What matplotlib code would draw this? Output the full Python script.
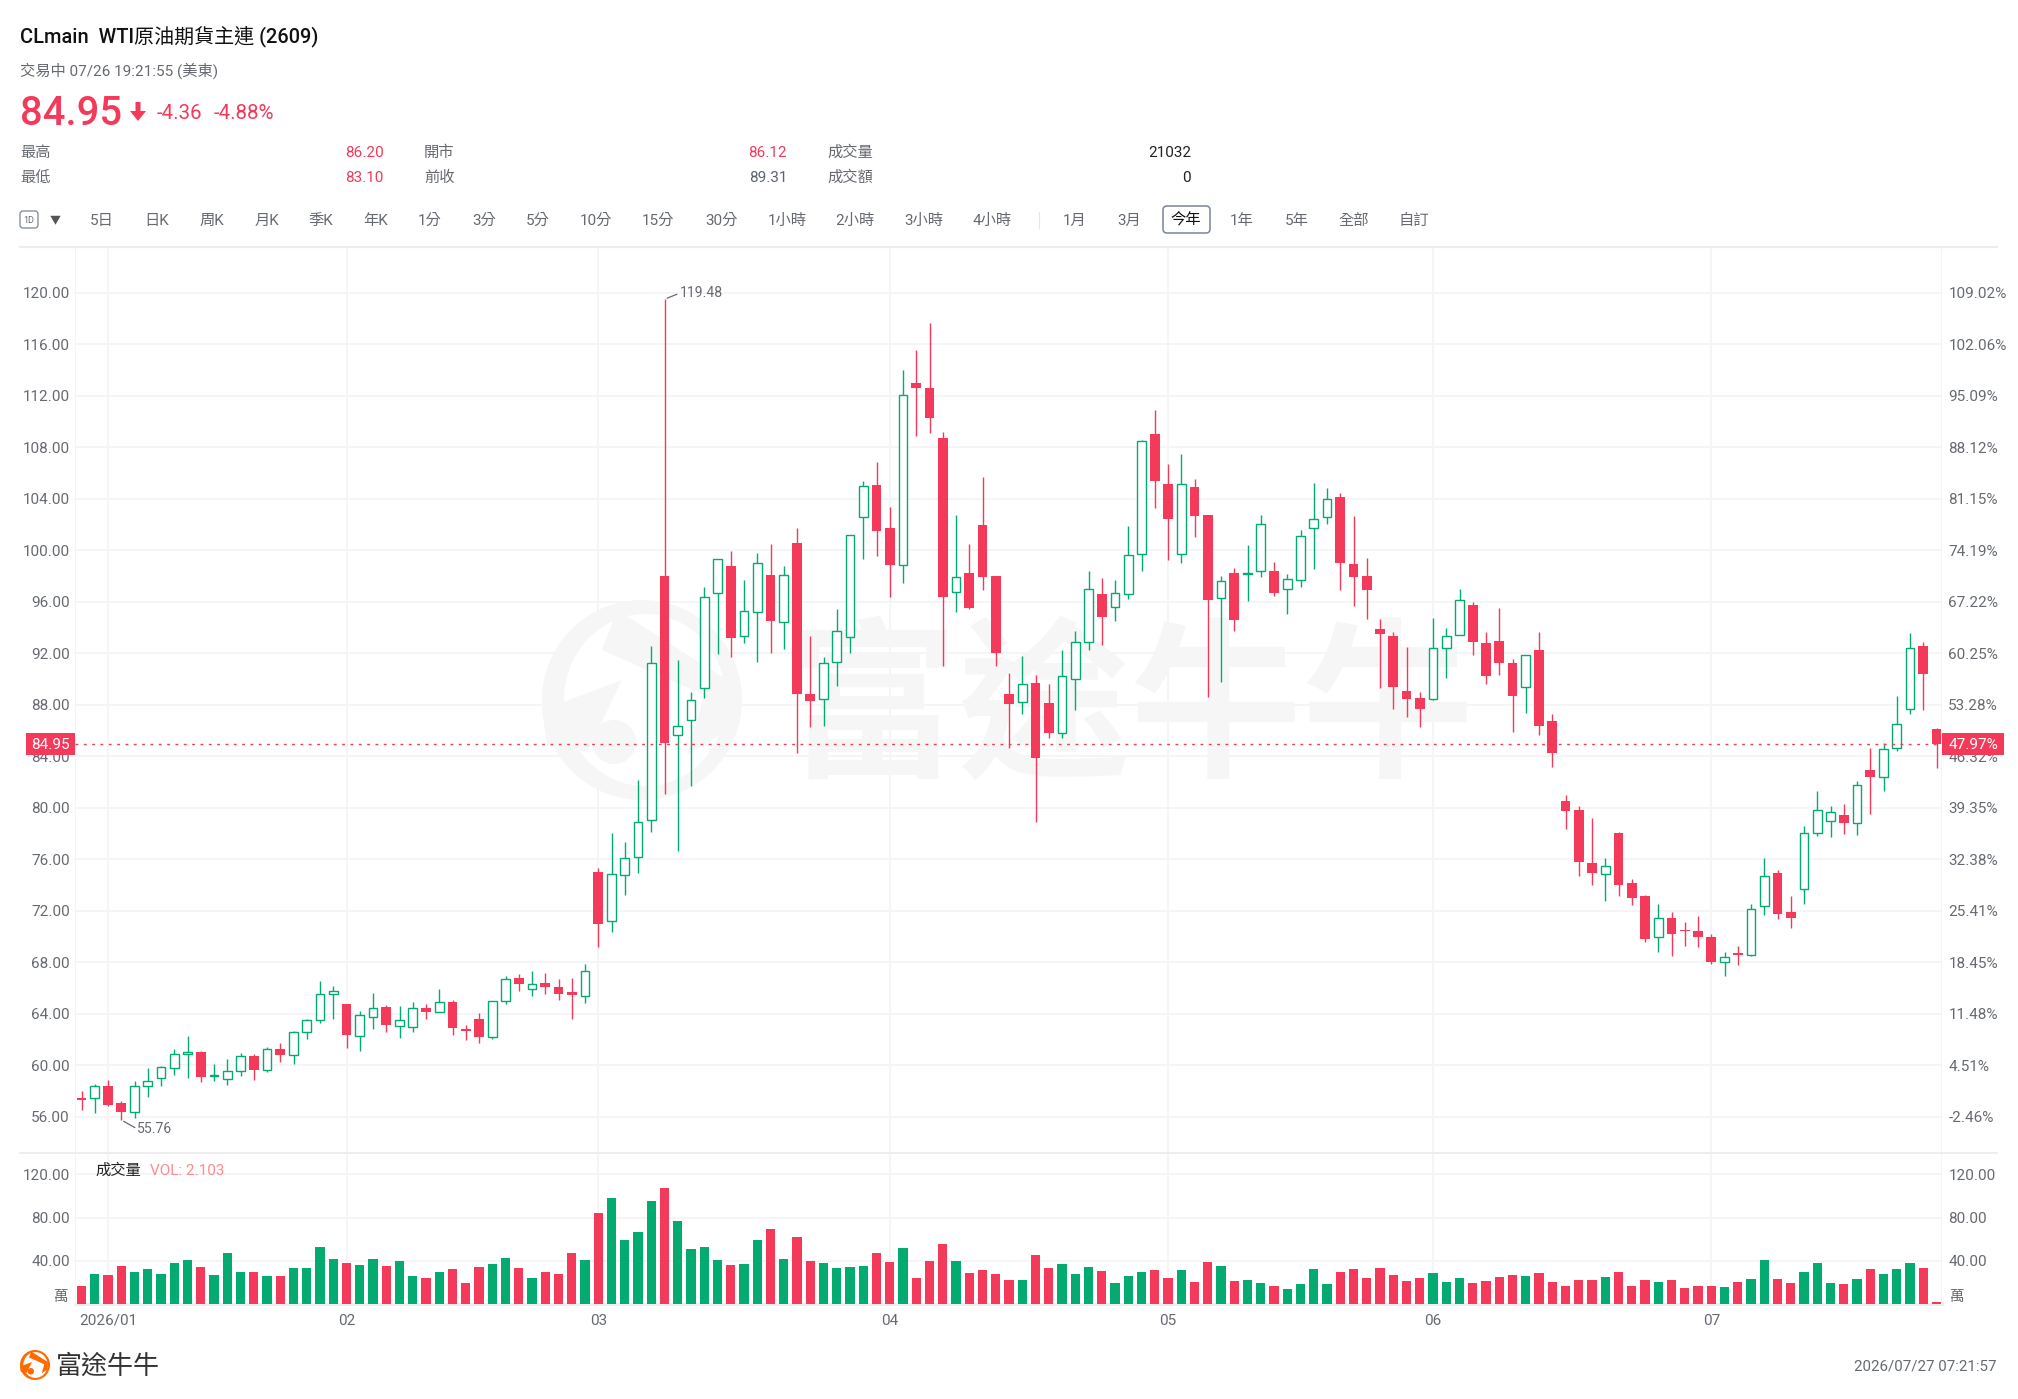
import matplotlib
matplotlib.use("Agg")
import matplotlib.pyplot as plt
from matplotlib.patches import Ellipse, Polygon, FancyBboxPatch, Rectangle
from matplotlib.transforms import Affine2D
import numpy as np

plt.rcParams['font.family'] = ['Roboto', 'Noto Sans CJK TC', 'DejaVu Sans']

W, H = 2018, 1399
RED = '#F33A5A'
GREEN = '#03AB70'
GRID = '#F5F5F6'
GRAY = '#666A70'
FS = 15.3

opens = [57.45,57.45,58.36,57.04,56.39,58.41,59.00,59.76,60.87,61.05,59.16,58.93,59.55,60.74,59.63,61.26,60.79,62.58,63.51,65.53,
         64.78,62.27,63.79,64.52,63.07,62.99,64.49,64.18,64.91,62.86,63.59,62.21,64.98,66.77,65.89,66.36,66.12,65.71,65.35,75.03,
         71.24,74.74,76.17,79.02,97.98,85.68,86.84,89.27,96.70,98.75,93.37,95.22,98.07,94.41,100.53,88.80,88.41,91.32,93.25,102.56,
         105.05,101.69,98.87,112.96,112.60,108.74,96.73,98.22,101.99,97.98,88.80,88.23,89.69,88.14,85.77,89.98,92.90,96.62,95.56,96.62,
         99.67,109.05,105.12,99.70,104.92,102.70,96.26,98.25,98.15,98.35,98.35,96.98,97.68,101.71,102.54,104.09,98.95,97.99,93.86,93.36,
         89.10,88.53,88.45,92.41,93.42,95.74,92.82,92.98,91.27,89.38,92.23,86.71,80.50,79.80,75.72,74.86,78.02,74.14,73.13,69.95,
         71.45,70.51,70.44,69.97,68.00,68.70,68.55,72.35,74.97,71.89,73.67,78.02,78.95,79.47,78.85,82.91,82.39,84.67,87.69,92.56,86.12]
highs = [57.97,58.56,58.90,57.22,58.77,59.83,59.91,61.28,62.24,61.08,60.09,60.53,60.92,60.87,61.39,61.75,62.65,63.61,66.54,66.18,
         64.80,64.23,65.58,64.70,64.62,64.93,64.75,65.89,65.04,63.15,64.03,65.01,66.95,67.08,67.34,67.18,66.67,66.75,67.88,75.36,
         78.06,77.31,82.14,92.57,119.48,91.47,88.98,97.15,99.30,99.94,97.65,99.79,100.50,98.75,101.69,93.37,91.71,95.45,101.20,105.38,
         106.86,103.33,114.00,115.51,117.65,109.18,102.70,100.45,105.65,98.00,90.46,91.80,90.31,89.62,92.23,93.73,98.40,97.86,97.66,101.84,
         108.56,110.91,106.65,107.48,105.49,102.72,97.99,98.64,100.37,102.72,99.10,98.12,101.56,105.20,104.84,104.45,102.67,99.41,94.68,93.67,
         92.51,89.02,94.76,93.98,97.01,95.95,93.62,95.48,91.56,91.89,93.65,87.25,81.02,80.17,79.21,76.08,78.15,74.45,73.21,72.51,
         71.89,71.16,71.60,70.18,68.78,69.25,72.51,76.10,75.15,73.18,78.59,81.30,80.14,80.32,82.08,84.64,85.06,88.65,93.54,92.87,86.20]
lows = [56.55,56.29,56.83,55.76,55.92,57.58,58.41,59.24,59.03,58.69,58.77,58.49,59.16,58.90,59.47,60.27,60.09,62.03,63.28,63.61,
        61.36,61.08,62.81,62.60,62.16,62.58,63.61,64.13,62.34,61.96,61.72,62.01,64.73,65.76,65.37,65.53,65.09,63.56,64.83,69.17,
        70.39,73.26,74.95,78.13,81.10,76.64,81.70,88.50,91.95,91.74,92.78,91.35,92.00,92.36,84.28,86.24,86.36,89.42,92.00,99.35,
        99.55,96.40,97.41,108.83,109.12,90.97,95.16,95.45,96.94,90.97,84.64,87.25,78.87,85.38,85.43,87.57,92.23,92.62,94.50,96.18,
        98.35,103.26,99.21,99.03,101.00,88.61,89.77,93.73,96.05,97.91,96.41,95.04,97.14,98.51,102.05,96.88,95.67,94.66,89.33,87.68,
        87.06,86.28,88.40,90.06,93.39,91.84,89.59,90.29,85.90,87.32,85.66,83.14,78.38,74.68,74.03,72.79,73.18,72.43,69.58,68.83,
        68.52,69.27,69.17,67.88,66.97,67.77,68.50,71.70,71.34,70.70,72.56,77.79,77.71,77.94,77.86,79.52,81.33,84.38,87.28,87.62,83.10]
closes = [57.30,58.36,56.93,56.36,58.41,58.77,59.86,60.89,61.05,59.13,59.26,59.55,60.69,59.63,61.28,60.79,62.60,63.54,65.53,65.79,
          62.32,63.92,64.49,63.10,63.51,64.44,64.18,64.91,62.89,62.65,62.19,64.96,66.67,66.30,66.30,66.07,65.53,65.45,67.31,71.01,
          74.82,76.11,78.89,91.23,84.99,86.36,88.38,96.37,99.29,93.14,95.27,99.02,94.50,98.10,88.80,88.29,91.26,93.73,101.16,104.99,
          101.49,98.84,112.04,112.57,110.28,96.40,97.95,95.51,97.95,91.98,88.02,89.60,83.89,85.84,90.19,92.85,96.96,94.81,96.65,99.59,
          108.46,105.36,102.44,105.10,102.62,96.16,97.63,94.60,98.22,102.02,96.70,97.76,101.12,102.44,103.99,99.00,97.94,96.93,93.49,89.36,
          88.48,87.68,92.43,93.34,96.16,92.85,90.19,91.22,88.66,91.84,86.36,84.25,79.78,75.79,74.97,75.51,74.03,73.02,69.82,71.47,
          70.20,70.41,70.00,68.03,68.45,68.57,72.17,74.73,71.76,71.47,78.00,79.80,79.67,78.85,81.74,82.36,84.54,86.48,92.38,90.41,84.95]
volumes = [17,28,27,35,30,32.5,28,38,41,34,27,47,30,30,26,26,33,33,53,42,
           38,36,41.5,35,40,26,24,30,32,19.5,34.5,37,43,33,24.5,29.5,28,47.5,41,84,
           98,59,66.5,95.5,107,77,51,52.5,41,36,37,59.5,69,42,62.5,40,38,33,34,35,
           47.5,39,51.5,24.5,40,55.5,39.5,28.5,31.5,27.5,22,22,45,33,36.7,27.8,34.3,30.5,19.4,25.6,
           29.3,31.5,24,31.5,20.4,39.2,34.9,21,22,19.1,16.4,13.6,18.2,32.1,18.5,29.6,32.7,24,33,26.9,
           21.3,24,28.7,20.4,23.8,19.4,21.3,24.7,27.2,25.6,28.7,20.4,17,22,22,25.3,29.3,17,22.2,20.4,
           22,15.1,17,16.7,15.4,20,22.8,40.4,23.5,19.8,29.6,37.7,19.8,18.2,23.1,32.1,27.5,32.7,37.7,33.3,2.103]

price_ticks = [120,116,112,108,104,100,96,92,88,84,80,76,72,68,64,60,56]
pct_labels = ['109.02%','102.06%','95.09%','88.12%','81.15%','74.19%','67.22%','60.25%','53.28%','46.32%',
              '39.35%','32.38%','25.41%','18.45%','11.48%','4.51%','-2.46%']
vol_ticks = [40,80,120]
month_idx = [2,20,39,61,82,102,123]
month_labels = ['2026/01','02','03','04','05','06','07']
last_price = 84.95
toolbar_left = [('5日',102),('日K',157),('周K',212),('月K',267),('季K',321),('年K',376),('1分',430),('3分',484),('5分',538),
                ('10分',596),('15分',658),('30分',721),('1小時',787),('2小時',855),('3小時',924),('4小時',992),
                ('1月',1075),('3月',1129),('今年',1186),('1年',1242),('5年',1297),('全部',1354),('自訂',1414)]

fig = plt.figure(figsize=(W/100, H/100), dpi=100, facecolor='white')
px = Affine2D().scale(1/W, -1/H).translate(0, 1) + fig.transFigure

def T(x, y, s, size=FS, color=GRAY, ha='left', va='center', **kw):
    return fig.text(x, y+0.7, s, transform=px, fontsize=size*0.72, color=color, ha=ha, va=va, **kw)

def axes_px(l, t, r, b):
    return fig.add_axes([l/W, 1-b/H, (r-l)/W, (b-t)/H])

LEFT, RIGHT = 75, 1942
X0, DX = 81.5, 13.25
xlim = ((LEFT-X0)/DX, (RIGHT-X0)/DX)
def p_at(y):
    return 68+(962.3-y)/12.88

# main panel
ax = axes_px(LEFT, 248, RIGHT, 1153)
ax.set_xlim(*xlim)
ax.set_ylim(p_at(1153), p_at(248))
x = np.arange(len(opens))
o, h, l, c = map(np.array, (opens, highs, lows, closes))
up = c > o
cols = np.where(up, GREEN, RED)

ax.set_axisbelow(True)
ax.grid(True, color=GRID, lw=1.3)
ax.set_yticks(price_ticks)
ax.set_yticklabels([f'{v:.2f}' for v in price_ticks], fontsize=FS*0.72, color=GRAY)
ax.set_xticks(month_idx)
ax.set_xticklabels([])
ax.tick_params(length=0, pad=3.8)
for s in ax.spines.values():
    s.set_visible(False)
ax.axvline(xlim[0], color=GRID, lw=1.3)
ax.axvline(xlim[1], color=GRID, lw=1.3)

# watermark
WM = '#F6F6F6'
ax.text(1130, 716, '富途牛牛', transform=px, fontsize=172*0.72, color=WM, fontweight='bold',
        ha='center', va='center', zorder=0.6)
def logo(target, cx, cy, r, color, z):
    a = lambda art: target.add_artist(art)
    a(Ellipse((cx, cy), 2*r, 2*r, transform=px, fc=color, ec='none', zorder=z))
    a(Ellipse((cx+0.03*r, cy+0.0*r), 1.62*r, 1.72*r, transform=px, fc='white', ec='none', zorder=z+0.01))
    a(Polygon([(cx-1.0*r, cy+0.1*r), (cx-0.2*r, cy-0.2*r), (cx-0.55*r, cy+0.52*r), (cx-0.95*r, cy+0.45*r)],
              closed=True, transform=px, fc=color, ec='none', zorder=z+0.02))
    a(Polygon([(cx-0.25*r, cy-0.9*r), (cx+0.85*r, cy-0.2*r), (cx+0.85*r, cy+0.3*r), (cx+0.45*r, cy+0.55*r),
               (cx+0.62*r, cy-0.05*r), (cx-0.4*r, cy-0.5*r)],
              closed=True, transform=px, fc=color, ec='none', zorder=z+0.02))
    a(Ellipse((cx-0.28*r, cy+0.42*r), 0.44*r, 0.44*r, transform=px, fc=color, ec='none', zorder=z+0.03))
logo(ax, 642, 700, 100, WM, 0.6)

# candles
ax.vlines(x, l, h, colors=cols, lw=1.0, zorder=3)
ax.bar(x[~up], (o-c)[~up], bottom=c[~up], width=0.72, color=RED, lw=0, zorder=4)
ax.bar(x[up], (c-o)[up], bottom=o[up], width=0.66, facecolor='white', edgecolor=GREEN, lw=1.0, zorder=4)

# last price line
ax.axhline(last_price, color=RED, lw=1.0, dashes=(2, 4), zorder=5)

# hi / lo annotations
i_hi = int(np.argmax(h))
i_lo = int(np.argmin(l))
ann = dict(arrowprops=dict(arrowstyle='-', color='#666A70', lw=0.9, shrinkA=2, shrinkB=2, relpos=(0, 0.5), patchA=None),
           fontsize=14*0.72, color='#666A70', va='center', textcoords='offset pixels', annotation_clip=False, zorder=6)
ax.annotate(f'{h[i_hi]:.2f}', xy=(i_hi, h[i_hi]), xytext=(15, 6), ha='left', **ann)
ax.annotate(f'{l[i_lo]:.2f}', xy=(i_lo, l[i_lo]), xytext=(16, -9), ha='left', **ann)

# percent axis
axr = ax.twinx()
axr.set_ylim(ax.get_ylim())
axr.set_yticks(price_ticks)
axr.set_yticklabels(pct_labels, fontsize=FS*0.72, color=GRAY)
axr.tick_params(length=0, pad=4.5)
for s in axr.spines.values():
    s.set_visible(False)

# volume panel
av = axes_px(LEFT, 1153, RIGHT, 1304)
av.set_xlim(*xlim)
av.set_ylim(0, (1304-1153)/(43.2/40))
av.set_axisbelow(True)
av.grid(True, color=GRID, lw=1.3)
av.bar(x, volumes, width=0.70, color=cols, lw=0, zorder=3)
av.set_yticks(vol_ticks)
av.set_yticklabels([f'{v:.2f}' for v in vol_ticks], fontsize=FS*0.72, color=GRAY)
av.set_xticks(month_idx)
av.set_xticklabels(month_labels, fontsize=FS*0.72, color=GRAY)
av.tick_params(length=0, pad=3.8)
av.tick_params(axis='x', pad=7)
for s in av.spines.values():
    s.set_visible(False)
av.axvline(xlim[0], color=GRID, lw=1.3)
av.axvline(xlim[1], color=GRID, lw=1.3)
av.axhline(0, color='#EEEEEE', lw=2, clip_on=False, zorder=1)
avr = av.twinx()
avr.set_ylim(av.get_ylim())
avr.set_yticks(vol_ticks)
avr.set_yticklabels([f'{v:.2f}' for v in vol_ticks], fontsize=FS*0.72, color=GRAY)
avr.tick_params(length=0, pad=4.5)
for s in avr.spines.values():
    s.set_visible(False)
T(68, 1296, '萬', ha='right', size=14.5)
T(1949, 1296, '萬', size=14.5)

# separators
for y, lw in ((247, 1.6), (1153, 1.3)):
    fig.add_artist(plt.Line2D([20, 1997], [y, y], transform=px, color='#EDEDED', lw=lw))

# price tags
for a, b, s in ((26, 75, f'{last_price:.2f}'), (1942, 2004, '47.97%')):
    fig.add_artist(Rectangle((a, 733), b-a, 22, transform=px, fc=RED, ec='none', zorder=2))
    T((a+b)/2, 744, s, color='white', ha='center', zorder=4)

# volume legend
T(95, 1170, '成交量', color='#222222')
T(150, 1170, 'VOL: 2.103', color='#FF8A8F')

# header
T(20, 35, 'CLmain  WTI原油期貨主連 (2609)', color='#111111', size=20, fontweight='medium')
T(20, 70, '交易中 07/26 19:21:55 (美東)')
T(20, 113, '84.95', color=RED, size=40, fontweight='medium')
fig.add_artist(Polygon([(135.5, 102), (140.5, 102), (140.5, 111), (146, 111), (138, 121), (130, 111), (135.5, 111)],
                       closed=True, transform=px, fc=RED, ec='none', zorder=2))
T(157, 113, '-4.36', color=RED, size=20.5)
T(214, 113, '-4.88%', color=RED, size=20.5)
rows = [(152, '最高', '86.20', RED, '開市', '86.12', RED, '成交量', '21032'),
        (177, '最低', '83.10', RED, '前收', '89.31', '#5C6270', '成交額', '0')]
for y, a, av1, ac, b, bv, bc, d, dv in rows:
    T(20, y, a)
    T(384, y, av1, color=ac, ha='right')
    T(424, y, b)
    T(787, y, bv, color=bc, ha='right')
    T(827, y, d)
    T(1191, y, dv, color='#222222', ha='right')

# toolbar
for s, cx in toolbar_left:
    T(cx, 220, s, ha='center', color='#111111' if s == '今年' else GRAY)
fig.add_artist(FancyBboxPatch((1163, 206), 47, 27, boxstyle='round,pad=0,rounding_size=4', transform=px,
                              fc='none', ec='#7A8599', lw=1.1, zorder=2))
fig.add_artist(FancyBboxPatch((20, 211), 18, 17, boxstyle='round,pad=0,rounding_size=3', transform=px,
                              fc='none', ec='#7A8599', lw=0.9, zorder=2))
T(29, 219.5, '1D', size=9, ha='center')
T(55, 220, '▼', size=11, ha='center', color='#555555')
fig.add_artist(plt.Line2D([1039, 1039], [212, 228], transform=px, color='#E6E6E6', lw=0.8))

# footer
logo(fig, 35, 1365, 15, '#FF6A00', 2)
T(107.5, 1366, '富途牛牛', color='#333333', size=26, ha='center', fontweight='medium')
T(1997, 1366, '2026/07/27 07:21:57', ha='right', size=15)

fig.savefig('out.png', dpi=100, facecolor='white')
